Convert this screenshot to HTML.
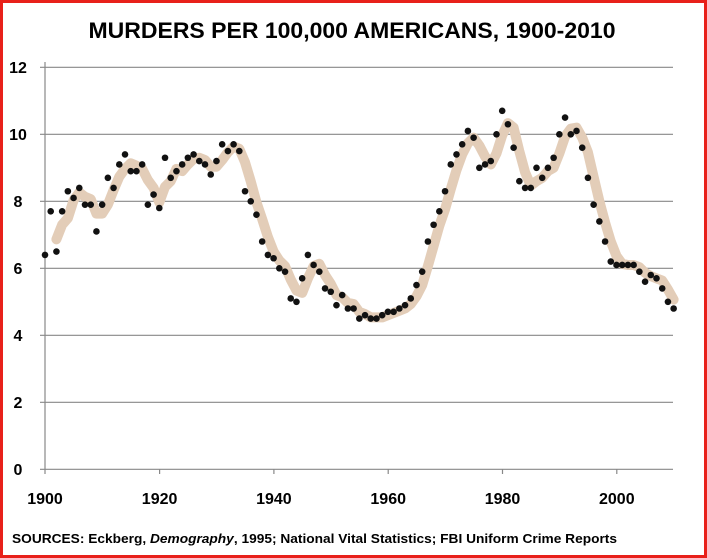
<!DOCTYPE html>
<html><head><meta charset="utf-8"><style>
html,body{margin:0;padding:0;background:#fff;}
svg{display:block;}
</style></head><body>
<svg id="s" width="707" height="558" xmlns="http://www.w3.org/2000/svg" font-family="'Liberation Sans', sans-serif">
<rect x="1.5" y="1.5" width="704" height="555" fill="#fff" stroke="#e8201a" stroke-width="3"/>
<text x="352" y="38" text-anchor="middle" font-size="22" font-weight="bold" textLength="527" lengthAdjust="spacingAndGlyphs">MURDERS PER 100,000 AMERICANS, 1900-2010</text>
<g stroke="#888" stroke-width="1.2">
<line x1="40" y1="67.3" x2="673" y2="67.3"/>
<line x1="40" y1="134.3" x2="673" y2="134.3"/>
<line x1="40" y1="201.3" x2="673" y2="201.3"/>
<line x1="40" y1="268.3" x2="673" y2="268.3"/>
<line x1="40" y1="335.3" x2="673" y2="335.3"/>
<line x1="40" y1="402.3" x2="673" y2="402.3"/>
<line x1="40" y1="469.3" x2="673" y2="469.3"/>
<line x1="45" y1="62" x2="45" y2="474"/>
<line x1="159.6" y1="469" x2="159.6" y2="474"/>
<line x1="273.9" y1="469" x2="273.9" y2="474"/>
<line x1="388.2" y1="469" x2="388.2" y2="474"/>
<line x1="502.5" y1="469" x2="502.5" y2="474"/>
<line x1="616.8" y1="469" x2="616.8" y2="474"/>
</g>
<g font-size="16" font-weight="bold" text-anchor="middle">
<text x="18" y="73">12</text><text x="18" y="140">10</text><text x="18" y="207">8</text>
<text x="18" y="274">6</text><text x="18" y="341">4</text><text x="18" y="408">2</text><text x="18" y="475">0</text>
<text x="45" y="504">1900</text><text x="159.6" y="504">1920</text><text x="273.9" y="504">1940</text>
<text x="388.2" y="504">1960</text><text x="502.5" y="504">1980</text><text x="616.8" y="504">2000</text>
</g>
<text x="12" y="543" font-size="13" font-weight="bold" textLength="605" lengthAdjust="spacingAndGlyphs">SOURCES: Eckberg, <tspan font-style="italic">Demography</tspan>, 1995; National Vital Statistics; FBI Uniform Crime Reports</text>
<g id="g"></g>
</svg>
<script>
var v=[6.4,7.7,6.5,7.7,8.3,8.1,8.4,7.9,7.9,7.1,7.9,8.7,8.4,9.1,9.4,8.9,8.9,9.1,7.9,8.2,7.8,9.3,8.7,8.9,9.1,9.3,9.4,9.2,9.1,8.8,9.2,9.7,9.5,9.7,9.5,8.3,8.0,7.6,6.8,6.4,6.3,6.0,5.9,5.1,5.0,5.7,6.4,6.1,5.9,5.4,5.3,4.9,5.2,4.8,4.8,4.5,4.6,4.5,4.5,4.6,4.7,4.7,4.8,4.9,5.1,5.5,5.9,6.8,7.3,7.7,8.3,9.1,9.4,9.7,10.1,9.9,9.0,9.1,9.2,10.0,10.7,10.3,9.6,8.6,8.4,8.4,9.0,8.7,9.0,9.3,10.0,10.5,10.0,10.1,9.6,8.7,7.9,7.4,6.8,6.2,6.1,6.1,6.1,6.1,5.9,5.6,5.8,5.7,5.4,5.0,4.8];
function X(i){return 45+i*5.715;}function Y(a){return 469.3-a*33.5;}
var ns="http://www.w3.org/2000/svg",g=document.getElementById('g');
var d="";
for(var i=2;i<v.length;i++){var a=(v[i]+v[i-1]+v[i-2])/3;d+=(i==2?"M":"L")+X(i).toFixed(1)+","+Y(a).toFixed(1);}
var p=document.createElementNS(ns,'path');p.setAttribute('d',d);p.setAttribute('fill','none');p.setAttribute('stroke','#e3cdb8');p.setAttribute('stroke-width','10');p.setAttribute('stroke-linejoin','round');p.setAttribute('stroke-linecap','round');g.appendChild(p);
for(var i=0;i<v.length;i++){var c=document.createElementNS(ns,'circle');c.setAttribute('cx',X(i));c.setAttribute('cy',Y(v[i]));c.setAttribute('r','3.3');c.setAttribute('fill','#111');g.appendChild(c);}
</script>
</body></html>
